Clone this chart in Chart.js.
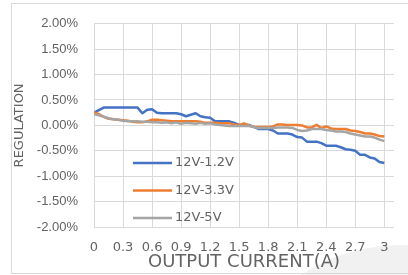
<!DOCTYPE html>
<html>
<head>
<meta charset="utf-8">
<script src="https://cdn.jsdelivr.net/npm/chart.js@4.4.1/dist/chart.umd.min.js"></script>
<style>
  html, body { margin: 0; padding: 0; background: #fff; }
  #wrap { position: relative; width: 408px; height: 275px; overflow: hidden; }
  #frame { position: absolute; left: 11px; top: 3px; width: 402px; height: 269px; border: 1px solid #d9d9d9; }
  #blob { position: absolute; left: 221px; top: 245px; width: 358px; height: 358px; border-radius: 50%; background: #f1f1f1; }
  canvas { position: absolute; left: 0; top: 0; }
</style>
</head>
<body>
<div id="wrap">
  <div id="blob"></div>
  <div id="frame"></div>
  <canvas id="chart" width="408" height="275"></canvas>
</div>
<script>
// output current (A)
const current = [0, 0.05, 0.1, 0.15, 0.2, 0.25, 0.3, 0.35, 0.4, 0.45, 0.5, 0.55, 0.6, 0.65, 0.7, 0.75,
  0.8, 0.85, 0.9, 0.95, 1.0, 1.05, 1.1, 1.15, 1.2, 1.25, 1.3, 1.35, 1.4, 1.45, 1.5, 1.55, 1.6, 1.65,
  1.7, 1.75, 1.8, 1.85, 1.9, 1.95, 2.0, 2.05, 2.1, 2.15, 2.2, 2.25, 2.3, 2.35, 2.4, 2.45, 2.5, 2.55,
  2.6, 2.65, 2.7, 2.75, 2.8, 2.85, 2.9, 2.95, 3.0];

// regulation (%)
const reg12v12 = [0.25, 0.30, 0.35, 0.35, 0.35, 0.35, 0.35, 0.35, 0.35, 0.35, 0.24, 0.31, 0.32, 0.25, 0.24, 0.24,
  0.24, 0.24, 0.22, 0.18, 0.21, 0.24, 0.18, 0.16, 0.15, 0.08, 0.08, 0.08, 0.08, 0.05, 0.01, 0.01, 0.01, -0.03,
  -0.07, -0.07, -0.07, -0.10, -0.16, -0.16, -0.16, -0.18, -0.23, -0.24, -0.32, -0.32, -0.32, -0.35, -0.40, -0.40, -0.40, -0.43,
  -0.47, -0.48, -0.50, -0.58, -0.58, -0.63, -0.65, -0.72, -0.74];
const reg12v33 = [0.26, 0.22, 0.17, 0.13, 0.12, 0.11, 0.10, 0.09, 0.07, 0.06, 0.06, 0.08, 0.11, 0.11, 0.10, 0.09,
  0.08, 0.08, 0.08, 0.08, 0.08, 0.08, 0.07, 0.05, 0.05, 0.05, 0.04, 0.04, 0.04, 0.02, 0.01, 0.04, 0.00, -0.03,
  -0.03, -0.03, -0.03, -0.02, 0.02, 0.02, 0.01, 0.01, 0.01, 0.00, -0.04, -0.04, 0.01, -0.05, -0.02, -0.06, -0.07, -0.07,
  -0.07, -0.10, -0.11, -0.13, -0.16, -0.16, -0.18, -0.21, -0.22];
const reg12v5 = [0.22, 0.20, 0.17, 0.14, 0.12, 0.11, 0.09, 0.08, 0.08, 0.08, 0.07, 0.07, 0.06, 0.06, 0.05, 0.06,
  0.04, 0.06, 0.03, 0.05, 0.04, 0.03, 0.05, 0.03, 0.04, 0.02, 0.01, 0.00, -0.01, -0.01, -0.01, -0.01, -0.01, -0.03,
  -0.05, -0.05, -0.05, -0.05, -0.04, -0.04, -0.04, -0.05, -0.09, -0.11, -0.10, -0.07, -0.07, -0.07, -0.09, -0.10, -0.12, -0.12,
  -0.13, -0.16, -0.18, -0.20, -0.22, -0.22, -0.24, -0.28, -0.31];

const seriesNames = ["12V-1.2V", "12V-3.3V", "12V-5V"];
const xTicks = [0, 0.3, 0.6, 0.9, 1.2, 1.5, 1.8, 2.1, 2.4, 2.7, 3];
const yTicks = [-2, -1.5, -1, -0.5, 0, 0.5, 1, 1.5, 2];

const textColor = "#636363";
const gridColor = "#d9d9d9";
const fontFamily = "DejaVu Sans";

function toPoints(values) {
  return values.map((v, i) => ({ x: current[i], y: v }));
}

// legend sits inside the plot, lower left
const legendInside = {
  id: "legendInside",
  afterDatasetsDraw(chart) {
    const ctx = chart.ctx;
    ctx.save();
    ctx.font = "13px '" + fontFamily + "'";
    ctx.textBaseline = "middle";
    ctx.textAlign = "left";
    chart.data.datasets.forEach((ds, i) => {
      const y = 163 + i * 27.5;
      ctx.strokeStyle = ds.borderColor;
      ctx.lineWidth = 2.5;
      ctx.beginPath();
      ctx.moveTo(133, y);
      ctx.lineTo(172, y);
      ctx.stroke();
      ctx.fillStyle = textColor;
      ctx.fillText(ds.label, 175, y);
    });
    ctx.restore();
  },
};

const series = [reg12v12, reg12v33, reg12v5];
const colors = ["#4472C4", "#ED7D31", "#A5A5A5"];

new Chart(document.getElementById("chart").getContext("2d"), {
  type: "line",
  data: {
    datasets: series.map((vals, i) => ({
      label: seriesNames[i],
      data: toPoints(vals),
      borderColor: colors[i],
      backgroundColor: colors[i],
      borderWidth: 2.5,
      pointRadius: 0,
      tension: 0,
      fill: false,
      order: 3 - i,
      borderJoinStyle: "round",
    })),
  },
  options: {
    responsive: false,
    animation: false,
    layout: { padding: { left: 12, top: 23, right: 14, bottom: 0 } },
    plugins: { legend: { display: false }, tooltip: { enabled: false } },
    scales: {
      x: {
        type: "linear",
        min: 0,
        max: 3.1,
        afterBuildTicks: (scale) => { scale.ticks = xTicks.map((v) => ({ value: v })); },
        afterFit: (scale) => { scale.height = 48; },
        grid: { color: gridColor, drawTicks: false, lineWidth: 1 },
        border: { display: false },
        ticks: {
          color: textColor,
          font: { family: fontFamily, size: 13 },
          padding: 13,
          maxRotation: 0,
          callback: (v) => String(v),
        },
        title: {
          display: true,
          text: "OUTPUT CURRENT(A)",
          color: textColor,
          font: { family: fontFamily, size: 18 },
          padding: { top: 0, bottom: 2 },
        },
      },
      y: {
        min: -2,
        max: 2,
        afterBuildTicks: (scale) => { scale.ticks = yTicks.map((v) => ({ value: v })); },
        afterFit: (scale) => { scale.width = 82; },
        grid: { color: gridColor, drawTicks: false, lineWidth: 1 },
        border: { display: false },
        ticks: {
          color: textColor,
          font: { size: 13 },
          padding: 16,
          autoSkip: false,
          callback: (v) => v.toFixed(2) + "%",
        },
        title: {
          display: true,
          text: "REGULATION",
          color: textColor,
          font: { family: fontFamily, size: 13 },
          padding: { top: 0, bottom: 0 },
        },
      },
    },
  },
  plugins: [legendInside],
});
</script>
</body>
</html>
